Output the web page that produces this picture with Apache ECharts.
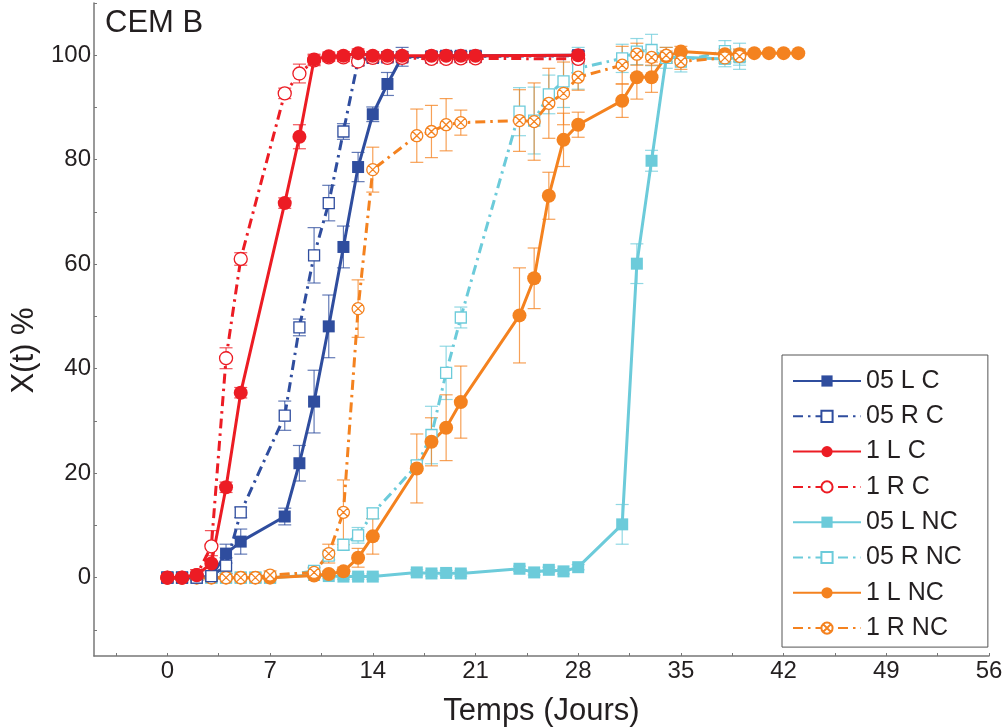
<!DOCTYPE html>
<html>
<head>
<meta charset="utf-8">
<script src="https://cdn.jsdelivr.net/npm/echarts@6/dist/echarts.min.js"></script>
<style>
html,body{margin:0;padding:0;background:#fff;}
#chart{width:1003px;height:728px;}
</style>
</head>
<body>
<div id="chart"></div>
<script>
// ---- data ----
const daysC  = [0,1,2,3,4,5,8,9,10,11,12,13,14,15,16,18,19,20,21,28];
const daysNC = [0,1,2,3,4,5,6,7,10,11,12,13,14,17,18,19,20,24,25,26,27,28,31,32,33,34,35,38,39];
const days1LNC = [0,1,2,3,4,5,6,7,10,11,12,13,14,17,18,19,20,24,25,26,27,28,31,32,33,34,35,38,39,40,41,42,43];

const v05LC  = [0,0,0,0.3,4.6,6.9,11.7,21.9,33.7,48.1,63.3,78.6,88.7,94.5,99.7,99.8,99.9,99.9,99.9,100];
const e05LC  = [0,0,0.5,0.8,1.8,2.4,1.6,3.4,6,6,4,2.8,1.4,2.2,1.8,0.8,0.8,0.8,0.8,0.8];
const v05RC  = [0,0,0,0.3,2.3,12.5,31,47.9,61.7,71.7,85.4,99,99.5,99.6,99.6,99.6,99.7,99.7,99.8,99.9];
const e05RC  = [0,0,0.5,0.8,1.5,1,2.8,1.6,5.3,3.4,1.5,1,0.8,0.8,0.8,0.8,0.8,0.8,0.8,0.8];
const v1LC   = [0,0,0.5,2.7,17.3,35.4,71.7,84.4,99.2,99.8,99.9,100.4,99.9,99.9,99.9,99.9,99.9,99.9,99.9,100];
const e1LC   = [0,0,1,1.5,1,1,1,2.3,1,0.8,0.8,0.8,0.8,0.8,0.8,0.8,0.8,0.8,0.8,0.8];
const v1RC   = [0,0,0.5,6,42,61,92.7,96.5,99,99.6,99.6,98.8,99.5,99.5,99.5,99.3,99.3,99.4,99.4,99.3];
const e1RC   = [0,0,1,3,2,1.2,1,1.8,1,0.8,0.8,0.8,0.8,0.8,0.8,0.8,0.8,0.8,0.8,0.8];

const v05LNC = [0,0,0,0,0,0,0,0, 0.5,0.3,0.2,0.2,0.2, 1.0,0.8,0.9,0.8, 1.7,1.0,1.5,1.2,2.0, 10.2,60.1,79.8,99.5,99.6, 99.3,99.6];
const e05LNC = [0,0,0,0,0,0,0,0, 0.5,0.5,0.5,0.5,0.5, 0.5,0.5,0.5,0.5, 0.5,0.5,0.5,0.5,0.5, 3.8,3.8,2,1,1, 1.5,1.5];
const v05RNC = [0,0,0,0,0,0,0,0, 1.3,4.2,6.3,8.1,12.3, 21.5,27.3,39.2,49.8, 89.2,87.5,92.5,95,97.5, 99.4,100.7,101,99.5,98.8, 100.8,99.8];
const e05RNC = [0,0,0,0,0,0,0,0, 0.5,0.8,1,1.5,1, 0.9,5.5,5.1,2, 4.6,6.4,3.7,5,4, 2.7,2.5,3,2,2, 2,2.5];
const v1LNC  = [0,0,0,0,0,0,0,0, 0.4,0.7,1.2,3.8,7.9, 20.9,26,28.7,33.6, 50.2,57.3,73.1,83.8,86.7, 91.3,95.8,95.8,99.8,100.7, 100.2,100.2,100.4,100.4,100.4,100.4];
const e1LNC  = [0,0,0,0,0,0,0,0, 0.3,0.5,0.8,1.8,3.4, 6.6,4.6,6.3,6.9, 9.1,5.8,4.5,5.1,2.4, 3.2,4.2,2.9,1,1, 1,1,0,0,0,0];
const v1RNC  = [0,0,0,0,0,0,0,0.5, 1,4.6,12.5,51.5,78.1, 84.6,85.4,86.7,87.1, 87.5,87.3,90.8,92.7,95.8, 98.1,100.2,99.6,100,98.8, 99.5,99.8];
const e1RNC  = [0,0,0,0,0,0,0,0.8, 1,1.8,6.2,5.5,4.3, 5.1,5,5,2.4, 5.9,7.4,6.7,6,2.5, 3.6,2.1,1.5,1.5,1.5, 1,1];

const xLabels = [0,7,14,21,28,35,42,49,56];
const xTicks  = [-3.5,0,3.5,7,10.5,14,17.5,21,24.5,28,31.5,35,38.5,42,45.5,49,52.5,56];
const yLabels = [0,20,40,60,80,100];
const yTicks  = [-10,0,10,20,30,40,50,60,70,80,90,100,110];

// ---- style ----
const BLUE = '#2F4D9E', RED = '#EC1C24', LBLUE = '#6CCBDA', ORANGE = '#F4821F';
const FONT = '"Liberation Sans", Arial, Helvetica, sans-serif';
const DASHDOT = [10,5,2.5,5];
const XCIRCLE = 'path://M0,10A10,10,0,1,1,20,10A10,10,0,1,1,0,10ZM2.93,2.93L17.07,17.07M17.07,2.93L2.93,17.07';

function lineSeries(name, days, vals, color, symbol, hollow, dashed, size){
  return {
    type:'line', name:name,
    data: days.map((d,i)=>[d, vals[i]]),
    symbol: symbol, symbolSize: size,
    showAllSymbol: true,
    itemStyle: hollow ? {color:'#fff', borderColor:color, borderWidth:1.3} : {color:color, borderWidth:0},
    lineStyle: {color:color, width:3, type: dashed ? DASHDOT : 'solid'},
    emphasis:{disabled:true},
    animation:false
  };
}
function errSeries(days, vals, errs, color){
  return {
    type:'custom', name:'_err',
    data: days.map((d,i)=>[d, vals[i], errs[i]]),
    encode:{x:0, y:1},
    silent:true, animation:false,
    renderItem: function(params, api){
      const x = api.value(0), y = api.value(1), e = api.value(2);
      if (!e) return null;
      const t = api.coord([x, y+e]), b = api.coord([x, y-e]);
      const w = 6.5;
      const st = {stroke: color, lineWidth: 1.2, opacity: 0.75};
      return {type:'group', children:[
        {type:'line', shape:{x1:t[0], y1:t[1], x2:b[0], y2:b[1]}, style:st},
        {type:'line', shape:{x1:t[0]-w, y1:t[1], x2:t[0]+w, y2:t[1]}, style:st},
        {type:'line', shape:{x1:b[0]-w, y1:b[1], x2:b[0]+w, y2:b[1]}, style:st}
      ]};
    }
  };
}

const names = ['05 L C','05 R C','1 L C','1 R C','05 L NC','05 R NC','1 L NC','1 R NC'];

const series = [
  lineSeries('05 L NC', daysNC, v05LNC, LBLUE, 'rect', false, false, 12),
  errSeries(daysNC, v05LNC, e05LNC, LBLUE),
  lineSeries('05 R NC', daysNC, v05RNC, LBLUE, 'rect', true, true, 11),
  errSeries(daysNC, v05RNC, e05RNC, LBLUE),
  lineSeries('1 L NC', days1LNC, v1LNC, ORANGE, 'circle', false, false, 14),
  errSeries(days1LNC, v1LNC, e1LNC, ORANGE),
  lineSeries('1 R NC', daysNC, v1RNC, ORANGE, XCIRCLE, true, true, 12),
  errSeries(daysNC, v1RNC, e1RNC, ORANGE),
  lineSeries('05 L C', daysC, v05LC, BLUE, 'rect', false, false, 12),
  errSeries(daysC, v05LC, e05LC, BLUE),
  lineSeries('05 R C', daysC, v05RC, BLUE, 'rect', true, true, 11),
  errSeries(daysC, v05RC, e05RC, BLUE),
  lineSeries('1 R C', daysC, v1RC, RED, 'circle', true, true, 13),
  errSeries(daysC, v1RC, e1RC, RED),
  lineSeries('1 L C', daysC, v1LC, RED, 'circle', false, false, 14),
  errSeries(daysC, v1LC, e1LC, RED)
];

const chart = echarts.init(document.getElementById('chart'), null, {renderer:'canvas'});
chart.setOption({
  animation:false,
  backgroundColor:'#fff',
  textStyle:{fontFamily:FONT},
  title:{text:'CEM B', left:100, top:3, textStyle:{fontFamily:FONT, fontSize:31, fontWeight:'normal', color:'#231F20'}},
  grid:{left:94, right:14, top:3, bottom:72, containLabel:false, outerBoundsMode:'none'},
  xAxis:{
    type:'value', min:-5, max:56,
    name:'Temps (Jours)', nameLocation:'middle', nameGap:40,
    nameTextStyle:{fontFamily:FONT, fontSize:31, color:'#231F20'},
    axisLine:{show:true, onZero:false, lineStyle:{color:'#777', width:1.5}},
    axisTick:{show:true, inside:true, length:3, customValues:xTicks, lineStyle:{color:'#777'}},
    axisLabel:{customValues:xLabels, fontFamily:FONT, fontSize:24, color:'#231F20', margin:3},
    splitLine:{show:false}
  },
  yAxis:{
    type:'value', min:-15, max:110,
    name:'X(t) %', nameLocation:'middle', nameGap:42, nameRotate:90,
    nameTextStyle:{fontFamily:FONT, fontSize:31, color:'#231F20', padding:[0,42,0,0]},
    axisLine:{show:true, onZero:false, lineStyle:{color:'#777', width:1.5}},
    axisTick:{show:true, inside:true, length:3, customValues:yTicks, lineStyle:{color:'#777'}},
    axisLabel:{customValues:yLabels, fontFamily:FONT, fontSize:24, color:'#231F20', margin:3},
    splitLine:{show:false}
  },
  legend:{
    data:names, orient:'vertical', left:782, top:355,
    itemWidth:68, itemHeight:14, itemGap:10.3,
    padding:[13.5,26,6.5,10],
    borderColor:'#555', borderWidth:1, backgroundColor:'#fff',
    textStyle:{fontFamily:FONT, fontSize:25, color:'#231F20', lineHeight:25},
    selectedMode:false
  },
  series: series
});
</script>
</body>
</html>
